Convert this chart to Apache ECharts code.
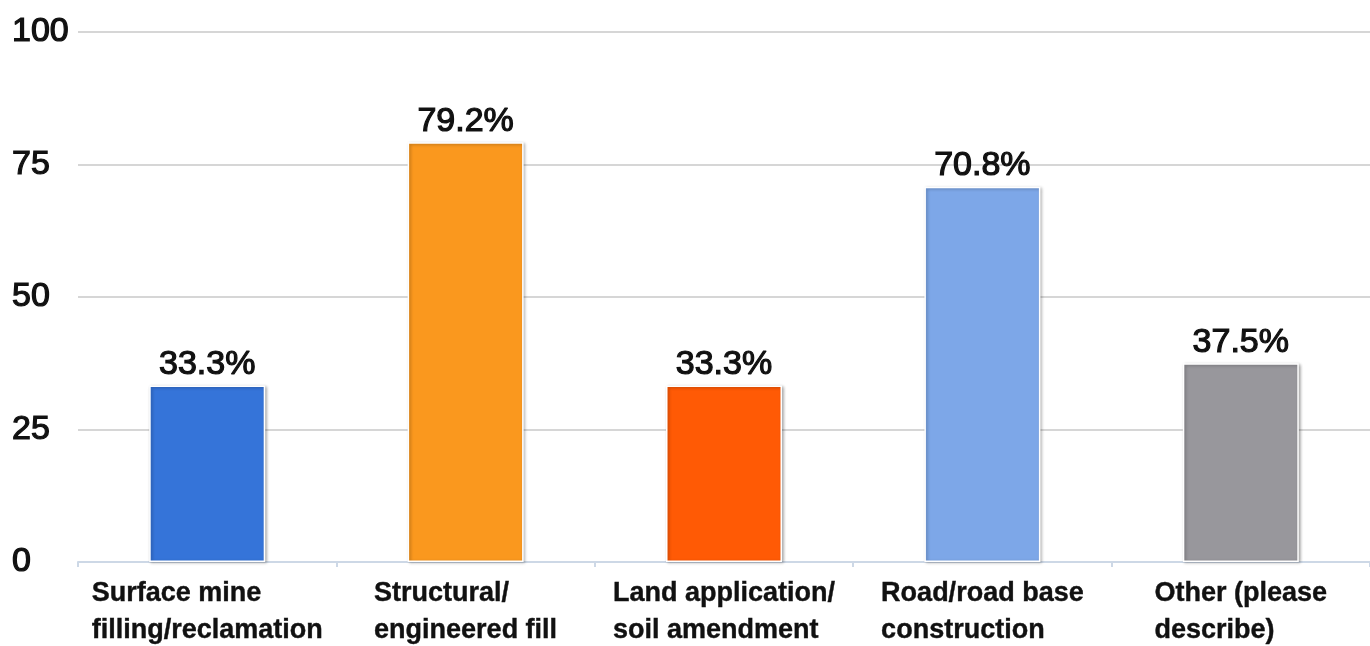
<!DOCTYPE html>
<html>
<head>
<meta charset="utf-8">
<style>html,body{margin:0;padding:0;background:#fff;}#c{width:1370px;height:646px;}</style>
<script src="https://cdn.jsdelivr.net/npm/echarts@6/dist/echarts.min.js"></script>
</head>
<body>
<div id="c"></div>
<script>
var categories = [
  ["Surface mine", "filling/reclamation"],
  ["Structural/", "engineered fill"],
  ["Land application/", "soil amendment"],
  ["Road/road base", "construction"],
  ["Other (please", "describe)"]
];
var values = [33.3, 79.2, 33.3, 70.8, 37.5];
var barColors = ["#3574D9", "#FA981E", "#FF5A05", "#7DA7E8", "#98979C"];
var yTicks = [0, 25, 50, 75, 100];

var chart = echarts.init(document.getElementById('c'), null, {renderer: 'canvas'});
var font = '"Liberation Sans", Arial, sans-serif';
chart.setOption({
  animation: false,
  backgroundColor: '#fff',
  grid: {left: 78, right: -7, top: 32, bottom: 84, containLabel: false},
  xAxis: {
    type: 'category',
    data: categories.map(function (c) { return c.join('\n'); }),
    axisLine: {show: true, lineStyle: {color: '#cdd8e6', width: 2}},
    axisTick: {show: true, alignWithLabel: false, length: 5, lineStyle: {color: '#cdd8e6', width: 2}},
    axisLabel: {
      interval: 0,
      margin: 13,
      formatter: function (v) {
        return v.split('\n').map(function (s) { return '{a|' + s + '}'; }).join('\n');
      },
      rich: {
        a: {align: 'left', fontFamily: font, fontWeight: 'bold', fontSize: 27, lineHeight: 37, color: '#111',
            textBorderColor: '#111', textBorderWidth: 0.4}
      }
    }
  },
  yAxis: {
    type: 'value',
    min: 0, max: 100, interval: 25,
    axisLine: {show: false},
    axisTick: {show: false},
    splitLine: {show: true, lineStyle: {color: '#c8c8c8', width: 1.5}},
    axisLabel: {
      align: 'left',
      margin: 66,
      padding: [0, 0, 10, 0],
      fontFamily: font,
      fontSize: 34,
      color: '#111',
      textBorderColor: '#111',
      textBorderWidth: 1.2,
      formatter: function (v) { return yTicks.indexOf(v) >= 0 ? String(v) : ''; }
    }
  },
  series: [{
    type: 'bar',
    barWidth: 116,
    data: values.map(function (v, i) {
      return {value: v, itemStyle: {color: barColors[i]}};
    }),
    itemStyle: {
      borderColor: '#ffffff',
      borderWidth: 1.5,
      shadowColor: 'rgba(0,0,0,0.3)',
      shadowBlur: 3,
      shadowOffsetX: 1.5,
      shadowOffsetY: 1
    },
    label: {
      show: true,
      position: 'top',
      distance: 4,
      fontFamily: font,
      fontSize: 34,
      color: '#111',
      textBorderColor: '#111',
      textBorderWidth: 1.2,
      formatter: function (p) { return p.value.toFixed(1) + '%'; }
    }
  }]
});
</script>
</body>
</html>
